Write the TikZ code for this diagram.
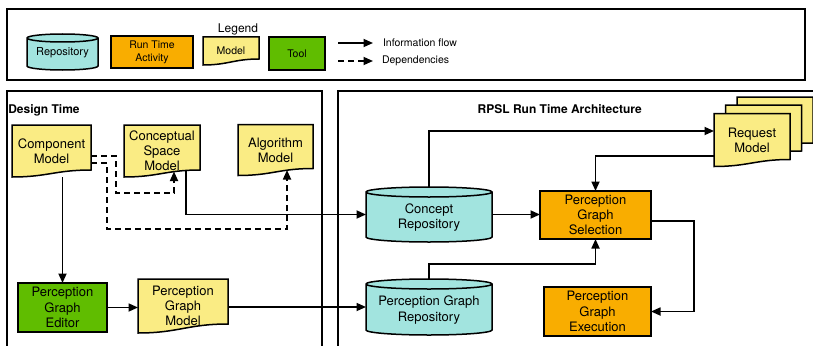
\documentclass[tikz,border=0pt]{standalone}
\usepackage{fontspec}
\setmainfont{TeX Gyre Heros}
\usetikzlibrary{arrows.meta,calc}

\definecolor{repocol}{RGB}{162,228,223}
\definecolor{runcol}{RGB}{249,173,0}
\definecolor{modelcol}{RGB}{250,236,132}
\definecolor{toolcol}{RGB}{96,189,0}

\pgfdeclarelayer{edges}
\pgfdeclarelayer{shapes}
\pgfsetlayers{edges,shapes,main}

\tikzset{
  outline/.style={draw=black, line width=1.5pt},
  conn/.style={line width=1.7pt, -{Triangle[length=9.5pt,width=8pt]}},
  depline/.style={conn, dash pattern=on 6pt off 4pt},
  frame/.style={draw=black, line width=1.5pt},
  lbl/.style={inner sep=0pt, outer sep=0pt, align=center, font=\fontsize{13}{15.2}\selectfont},
  legtxt/.style={inner sep=0pt, outer sep=0pt, align=center, font=\fontsize{10.5}{13}\selectfont},
  title/.style={inner sep=0pt, outer sep=0pt, font=\bfseries\fontsize{12}{14}\selectfont},
  rectbox/.style={lbl, outline, fill=#1},
}

% document shape: straight top and sides, S-shaped bottom edge
% #1 node, #2 fill colour, #3 rise of the right end of the bottom edge
\newcommand\docshape[3]{%
  \path[outline, fill=#2] let \p1=(#1.north west), \p2=(#1.south east), \n1={\x2-\x1} in
    (\p1) -- (\x2,\y1) -- (\x2,{\y2+#3})
    .. controls ({\x2-0.45*\n1},{\y2+#3}) and ({\x1+0.45*\n1},{\y2}) .. (\x1,\y2) -- cycle;}

% cylinder: #1 node, #2 fill colour, #3 half height of the end ellipses
\newcommand\cylshape[3]{%
  \path[outline, fill=#2] let \p1=(#1.north west), \p2=(#1.south east), \n1={0.5*(\x2-\x1)} in
    (\x1,{\y1-#3}) -- (\x1,{\y2+#3})
    arc[start angle=180, end angle=360, x radius=\n1, y radius=#3]
    -- (\x2,{\y1-#3})
    arc[start angle=0, end angle=180, x radius=\n1, y radius=#3]
    -- cycle
    (\x1,{\y1-#3}) arc[start angle=180, end angle=360, x radius=\n1, y radius=#3];}

\begin{document}
\begin{tikzpicture}[x=1pt, y=-1pt]
\useasboundingbox (0,0) rectangle (813,345);
\clip (0,0) rectangle (813,345);

% ---------------- legend ----------------
\node[legtxt, font=\fontsize{12}{14}\selectfont] (legTitle) at (238,29) {Legend};
\node[lbl, minimum width=71pt, minimum height=36pt] (legRepo) at (62.5,52) {};
\node[legtxt, font=\fontsize{11}{13}\selectfont] (legRepoText) at (62.5,53) {Repository};
\node[rectbox=runcol, legtxt, minimum width=82pt, minimum height=32pt] (legRun) at (152,52) {Run Time\\Activity};
\node[legtxt, minimum width=56pt, minimum height=28pt] (legModel) at (231,51) {Model};
\node[rectbox=toolcol, legtxt, minimum width=56pt, minimum height=33pt] (legTool) at (297,53.5) {Tool};
\coordinate (flowA) at (338,43);
\coordinate (flowB) at (373,43);
\node[legtxt, anchor=west] (flowText) at (383,43) {Information flow};
\coordinate (depA) at (338,61);
\coordinate (depB) at (373,61);
\node[legtxt, anchor=west] (depText) at (382,61) {Dependencies};

% ---------------- design time ----------------
\node[title, anchor=west] (designTitle) at (8.3,110) {Design Time};
\node[lbl, minimum width=79pt, minimum height=52pt] (compModel) at (51.5,151) {Component\\Model};
\node[lbl, minimum width=76pt, minimum height=52pt] (cspModel) at (162,151) {Conceptual\\Space\\Model};
\node[lbl, minimum width=75pt, minimum height=51pt] (algModel) at (275.5,150) {Algorithm\\Model};
\node[rectbox=toolcol, minimum width=89pt, minimum height=49pt] (pgEditor) at (62.5,307.5) {Perception\\Graph\\Editor};
\node[lbl, minimum width=90pt, minimum height=54pt] (pgModel) at (183,306) {Perception\\Graph\\Model};

% ---------------- run time ----------------
\node[title] (rpslTitle) at (559.7,109) {RPSL Run Time Architecture};
\node[lbl, minimum width=126pt, minimum height=55pt] (conceptRepo) at (429,214.5) {};
\node[lbl] (conceptRepoText) at (429,217.5) {Concept\\Repository};
\node[lbl, minimum width=126pt, minimum height=56pt] (pgRepo) at (429,307) {};
\node[lbl] (pgRepoText) at (429,310) {Perception Graph\\Repository};
\node[rectbox=runcol, minimum width=111pt, minimum height=48pt] (pgSel) at (595.5,215) {Perception\\Graph\\Selection};
\node[rectbox=runcol, minimum width=107pt, minimum height=49pt] (pgExec) at (597.5,311.5) {Perception\\Graph\\Execution};
\node[lbl, minimum width=76pt, minimum height=53pt] (reqBackB) at (775,123.5) {};
\node[lbl, minimum width=76pt, minimum height=53pt] (reqBackA) at (763.5,131.5) {};
\node[lbl, minimum width=76pt, minimum height=53pt] (reqModel) at (752,140) {Request\\Model};

\coordinate (cspIn) at (174,171.5);
\coordinate (algIn) at (287,170);

% ---------------- shape outlines ----------------
\begin{pgfonlayer}{shapes}
  \cylshape{legRepo}{repocol}{4pt}
  \docshape{legModel}{modelcol}{6pt}
  \docshape{compModel}{modelcol}{7pt}
  \docshape{cspModel}{modelcol}{7pt}
  \docshape{algModel}{modelcol}{7pt}
  \docshape{pgModel}{modelcol}{9pt}
  \cylshape{conceptRepo}{repocol}{5pt}
  \cylshape{pgRepo}{repocol}{5pt}
  \docshape{reqBackB}{modelcol}{7pt}
  \docshape{reqBackA}{modelcol}{7pt}
  \docshape{reqModel}{modelcol}{7pt}
\end{pgfonlayer}

% ---------------- frames and connectors ----------------
\begin{pgfonlayer}{edges}
  \begin{scope}
  \clip (0,0) rectangle (813,345);
  \draw[frame] (7,9) rectangle (805,80);
  \draw[frame] (7,91) rectangle (322,360);
  \draw[frame] (338,91) rectangle (840,360);

  \draw[conn] (flowA) -- (flowB);
  \draw[depline] (depA) -- (depB);

  \draw[conn] (compModel.south -| pgEditor.north) -- (pgEditor.north);
  \draw[conn] (pgEditor.east) -- (pgEditor.east -| pgModel.west);
  \draw[conn] (pgModel.east |- pgRepo.west) -- (pgRepo.west);
  \draw[conn] ([xshift=24pt,yshift=15pt]cspModel.south) |- (conceptRepo.west);
  \draw[depline] ([yshift=-5pt]compModel.east) -- ++(25,0) |- ($(cspIn)+(0,21.5)$) -- (cspIn);
  \draw[depline] ([yshift=-12pt]compModel.east) -- ++(16,0) |- ($(algIn)+(0,59)$) -- (algIn);

  \draw[conn] (conceptRepo.north) |- ([yshift=9pt]reqModel.west);
  \draw[conn] ([yshift=-16pt]reqModel.west) -| (pgSel.north);
  \draw[conn] (conceptRepo.east) -- (conceptRepo.east -| pgSel.west);
  \draw[conn] (pgRepo.north) |- ([yshift=-25pt]pgSel.south) -- (pgSel.south);
  \draw[conn] ([yshift=-6pt]pgSel.east) -- ++(43,0) |- (pgExec.east);
  \end{scope}
\end{pgfonlayer}
\end{tikzpicture}
\end{document}
